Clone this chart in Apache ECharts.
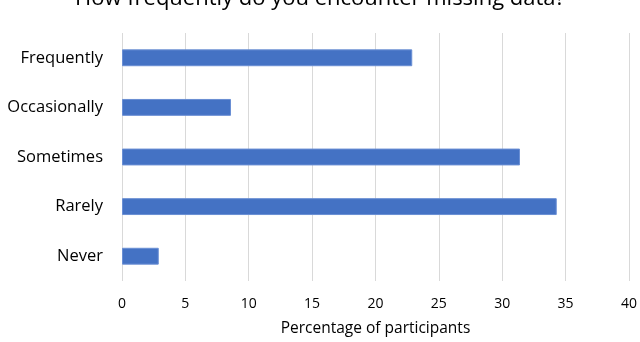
<!DOCTYPE html>
<html><head><meta charset="utf-8">
<script src="https://cdn.jsdelivr.net/npm/echarts@6/dist/echarts.min.js"></script>
<style>html,body{margin:0;padding:0;background:#fff}#c{width:640px;height:342px}</style>
</head><body><div id="c"></div>
<script>
const titleText = "How frequently do you encounter missing data?";
const categories = ["Frequently", "Occasionally", "Sometimes", "Rarely", "Never"];
const values = [22.9, 8.6, 31.4, 34.3, 2.9];
const xTicks = [0, 5, 10, 15, 20, 25, 30, 35, 40];
const xTitle = "Percentage of participants";

const chart = echarts.init(document.getElementById('c'), null, {renderer: 'canvas'});
const font = "'Open Sans', 'Noto Sans', sans-serif";
chart.setOption({
  animation: false,
  title: {text: titleText, left: 'center', top: -17,
    textStyle: {fontFamily: font, fontSize: 22, fontWeight: 'normal', color: '#000'}},
  grid: {left: 122, right: 10, top: 33, bottom: 59, containLabel: false},
  xAxis: {type: 'value', min: xTicks[0], max: xTicks[xTicks.length - 1], interval: 5,
    name: xTitle, nameLocation: 'middle', nameGap: 40,
    nameTextStyle: {fontFamily: font, fontSize: 15.5, color: '#000'},
    axisLine: {show: false}, axisTick: {show: false},
    axisLabel: {fontFamily: font, fontSize: 14, color: '#000', margin: 16},
    splitLine: {lineStyle: {color: '#d9d9d9', width: 1}}},
  yAxis: {type: 'category', data: categories, inverse: true,
    axisLine: {show: false}, axisTick: {show: false},
    axisLabel: {fontFamily: font, fontSize: 16.5, color: '#000', margin: 19}},
  series: [{type: 'bar', data: values, barCategoryGap: '66%',
    itemStyle: {color: '#4472C4', borderColor: '#6a8fd4', borderWidth: 1}}]
});
</script></body></html>
